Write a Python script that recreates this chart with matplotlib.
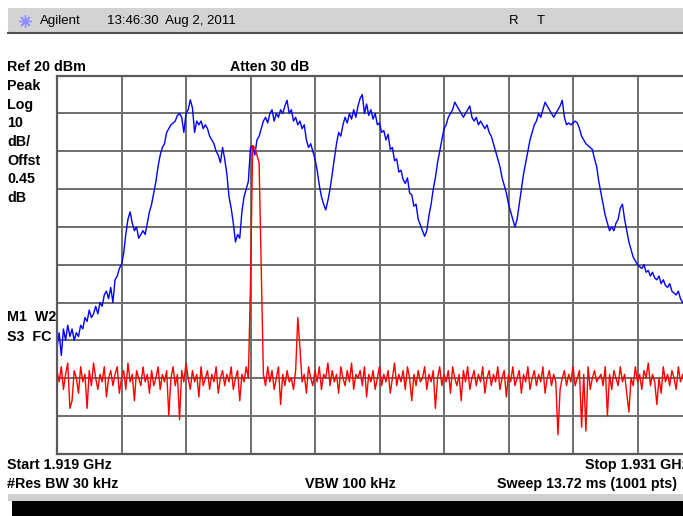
import numpy as np
import matplotlib.pyplot as plt
from matplotlib.patches import Rectangle

# sweep: 1.919 .. 1.931 GHz, ref 20 dBm, 10 dB/div
f_start, f_stop = 1.919, 1.931
ref_level, db_div = 20, 10

# trace 1 (blue), dBm
trace_blue = [
    -52, -48, -54, -47, -50, -46, -49, -47, -50, -48,
    -49, -46, -47, -44, -45, -42, -44, -43, -41, -43,
    -40, -41, -38, -37, -39, -36, -40, -34, -33, -31,
    -30, -27, -22, -18, -16, -19, -21, -20, -23, -22,
    -21, -22, -19, -16, -14, -11, -8, -4, -1, 1,
    2, 5, 6, 7, 7.5, 8, 9.5, 10, 9, 5,
    10, 11, 13.6, 11.5, 5, 8, 7, 8, 6, 7,
    6, 4, 3, 2, 0, -1, -3, 1, -2, -6,
    -12, -15, -19, -24, -22, -23, -16, -12, -10, -8,
    1, 1.5, -1, 3, 4, 6, 8, 9, 7.5, 10,
    11, 8, 10, 9, 11, 10, 12, 13.5, 10, 11,
    8, 9, 7, 8, 6, 7, 3, 1, 2, 0,
    -2, -5, -9, -12, -14, -15.5, -13, -10, -6, -2,
    2, 5, 4, 7, 9, 7.5, 10, 8.5, 11, 9,
    12, 14, 15, 10, 12.5, 9.5, 11, 8.5, 10, 7,
    7.5, 5, 5.5, 3, 4.5, 0.5, 1, -2.5, -2, -5.5,
    -5, -7.5, -8.5, -7, -11, -11.5, -14.5, -14, -18, -19.5,
    -21, -22.5, -21, -17, -14, -10, -7, -3, 0, 3,
    6, 7, 9, 10, 11, 13, 12, 11, 10, 9,
    10, 11, 12, 9, 8, 9, 7, 8, 7, 6,
    7, 5, 4, 2, 0, -2, -4, -7, -9, -11,
    -14, -16, -18, -20, -18, -14, -10, -6, -3, 0,
    3, 5, 7, 8, 10, 9, 11, 13, 12, 11,
    10, 9, 10, 11, 12, 13.5, 9, 7, 7.5, 7,
    7.5, 8, 7.5, 6, 4, 3, 2, 1.5, 1, 0.5,
    -2, -4, -8, -11, -14, -17, -19, -21, -20, -21,
    -19, -18, -15, -14, -18, -21, -24, -26, -28, -29,
    -30, -30.5, -31, -30, -32, -31.5, -33, -32, -33.5, -34,
    -33, -35, -34, -35.5, -36, -35, -37, -37.5, -38, -37,
    -39, -40, -40, -41, -40.5, -42, -41, -42.5, -43, -42,
    -44,
]

# trace 2 (red), dBm
trace_red = [
    -58, -61, -57, -63, -59, -56, -68, -66, -58, -60,
    -64, -57, -61, -59, -68, -58, -62, -56, -60, -63,
    -59, -61, -57, -65, -60, -58, -62, -59, -57, -64,
    -60, -58, -63, -56, -61, -59, -66, -58, -60, -62,
    -57, -61, -59, -64, -58, -62, -60, -57, -63, -59,
    -61, -58, -70, -60, -57, -62, -59, -71, -58, -61,
    -56, -60, -63, -58, -61, -59, -65, -57, -62, -60,
    -58, -63, -59, -61, -57, -64, -60, -58, -62, -59,
    -61, -57, -63, -60, -58, -66, -59, -61, -57, -60,
    -35, 1.5, 1, -1, -3, -31, -59, -62, -57, -61,
    -58, -63, -60, -57, -67, -59, -62, -58, -61, -60,
    -63, -58, -44, -52, -61, -59, -64, -57, -60, -62,
    -58, -61, -57, -63, -59, -60, -56, -62, -58, -61,
    -59, -64, -57, -60, -62, -58, -61, -56, -63, -59,
    -60, -58, -62, -57, -65, -59, -61, -58, -63, -60,
    -57, -62, -59, -61, -58, -64, -60, -56, -62, -59,
    -61, -58, -63, -57, -60, -66, -59, -62, -58, -61,
    -60, -57, -63, -59, -61, -58, -68, -60, -57, -62,
    -59, -61, -58, -64, -57, -60, -62, -59, -66, -58,
    -61, -57, -63, -60, -58, -62, -59, -61, -57, -64,
    -60, -58, -62, -59, -61, -57, -63, -60, -58, -65,
    -59, -61, -57, -62, -60, -58, -64, -59, -61, -57,
    -63, -60, -58, -62, -59, -61, -57, -64, -60, -58,
    -62, -59, -61, -75, -63, -60, -58, -62, -59, -61,
    -57, -62, -60, -58, -73, -59, -74, -57, -63, -60,
    -58, -61, -60, -59, -62, -57, -70, -59, -63, -58,
    -60, -62, -57, -61, -59, -64, -69, -60, -62, -57,
    -61, -59, -63, -58, -60, -56, -62, -59, -61, -67,
    -60, -64, -57, -61, -59, -62, -58, -60, -63, -57,
    -61, -59, -62, -58, -60, -57, -63, -59, -61, -58,
    -60,
]

top_left = ["Ref 20 dBm", "Peak", "Log", "10", "dB/", "Offst", "0.45", "dB"]
marker_lbl = ["M1  W2", "S3  FC"]

W, H = 683, 516
fig = plt.figure(figsize=(W / 100, H / 100), dpi=100)
fig.patch.set_facecolor('white')

# background layer in pixel coords for the screen furniture
bg = fig.add_axes([0, 0, 1, 1])
bg.set_xlim(0, W)
bg.set_ylim(H, 0)
bg.axis('off')

bg.add_patch(Rectangle((8, 8), W - 8, 25, facecolor='#d3d3d3', edgecolor='none'))
bg.plot([8, W], [33, 33], color='#505050', lw=1.5)
bg.scatter([25], [21], marker=(8, 2, 0), s=70, color='#8c8cff', lw=1)
ttl = dict(fontsize=9.5, family='Liberation Sans', va='center', ha='left')
bg.text(40, 21, "Agilent", **ttl)
bg.text(107, 21, "13:46:30  Aug 2, 2011", **ttl)
bg.text(509, 21, "R", **ttl)
bg.text(537, 21, "T", **ttl)

bold = dict(fontsize=10.3, family='Liberation Sans', fontweight='bold', va='center', ha='left')
ys = [67, 86, 105, 123, 142, 161, 179, 198]
for t, y in zip(top_left, ys):
    bg.text(7, y, t, **bold)
bg.text(230, 67, "Atten 30 dB", **bold)
bg.text(7, 317, marker_lbl[0], **bold)
bg.text(7, 337, marker_lbl[1], **bold)
bg.text(7, 465, "Start 1.919 GHz", **bold)
bg.text(585, 465, "Stop 1.931 GHz", **bold)
bg.text(7, 484, "#Res BW 30 kHz", **bold)
bg.text(305, 484, "VBW 100 kHz", **bold)
bg.text(497, 484, "Sweep 13.72 ms (1001 pts)", **bold)

bg.add_patch(Rectangle((8, 494), W - 8, 7, facecolor='#cfcfcf', edgecolor='none'))
bg.add_patch(Rectangle((12, 501), W - 12, 15, facecolor='black', edgecolor='none'))

# graticule: 10 x 10 divisions, runs off the right edge like the screenshot
x0, x1, y0, y1 = 57, 702, 75.7, 453.7
ax = fig.add_axes([x0 / W, 1 - y1 / H, (x1 - x0) / W, (y1 - y0) / H])
ax.set_facecolor('none')
ax.set_xlim(f_start, f_stop)
ax.set_ylim(ref_level - 10 * db_div, ref_level)
ax.set_xticks(np.linspace(f_start, f_stop, 11))
ax.set_yticks(np.arange(ref_level - 10 * db_div, ref_level + 1, db_div))
ax.tick_params(length=0, labelbottom=False, labelleft=False)
ax.grid(True, color='#6e6e6e', lw=1.4)
for s in ax.spines.values():
    s.set_color('#5a5a5a')
    s.set_linewidth(1.6)

fb = np.linspace(f_start, f_stop, len(trace_blue))
fr = np.linspace(f_start, f_stop, len(trace_red))
ax.plot(fb, trace_blue, color='#0000ff', lw=1.0)
ax.plot(fr, trace_red, color='#ff0000', lw=1.0)

fig.savefig('out.png', dpi=100)
